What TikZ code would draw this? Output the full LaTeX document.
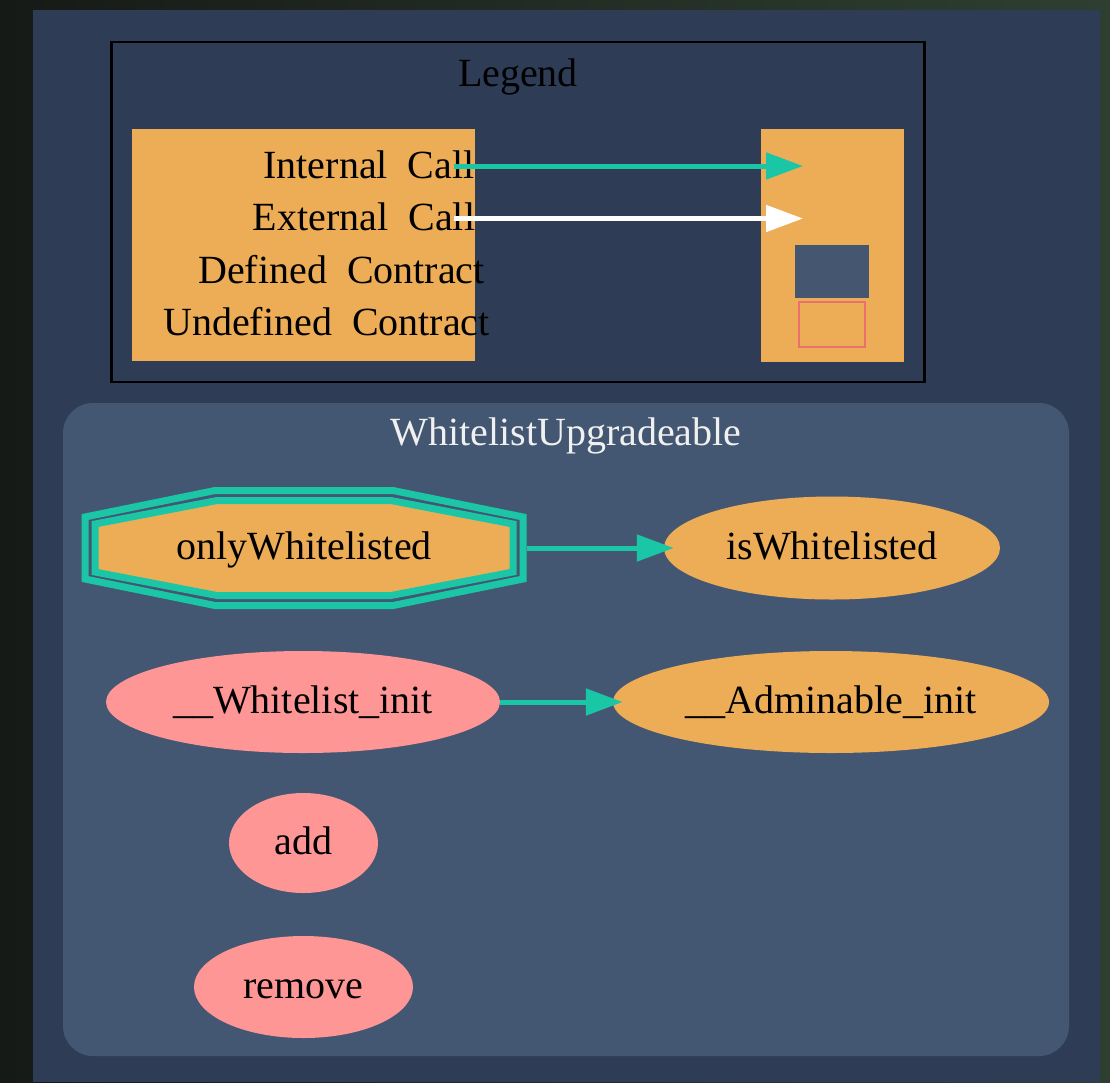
\documentclass[tikz,border=0pt]{standalone}
\usepackage{xcolor}
\usepackage{fontspec}
\setmainfont{Liberation Serif}
\newfontfamily\legendfont{Liberation Serif}[WordSpace=2]
\usepackage{tikz}
\usetikzlibrary{shapes.geometric,arrows.meta}

\definecolor{screenL}{HTML}{161A16}
\definecolor{screenR}{HTML}{2E3F32}
\definecolor{graphbg}{HTML}{2E3D55}
\definecolor{clusterbg}{HTML}{445772}
\definecolor{fnorange}{HTML}{ECAD56}
\definecolor{fnpink}{HTML}{FF9696}
\definecolor{callteal}{HTML}{1BC6A6}
\definecolor{defblue}{HTML}{445670}
\definecolor{undefred}{HTML}{E8726B}

\begin{document}
\begin{tikzpicture}[x=1pt,y=-1pt,
    every node/.append style={font=\fontsize{40}{48}\selectfont},
    fn/.style={ellipse,inner sep=0pt,text height=22pt,text depth=0pt},
    internalcall/.style={draw=callteal,line width=5pt,-{Triangle[length=37pt,width=26pt]}},
    callto/.style={draw=callteal,line width=5pt,-{Triangle[length=37pt,width=26pt]},shorten >=-10pt},
    externalcall/.style={draw=white,line width=5pt,-{Triangle[length=37pt,width=26pt]}},
    legendtext/.style={anchor=base,inner sep=0pt,font=\legendfont\fontsize{40}{48}\selectfont}]
  \useasboundingbox (0,0) rectangle (1110,1082);
  \shade[left color=screenL,right color=screenR] (0,0) rectangle (1110,1082);
  \fill[graphbg] (33,10) rectangle (1100,1082);

  % legend
  \draw[black,line width=2.7pt] (111.3,42) rectangle (924.7,382);
  \node[anchor=base,inner sep=0pt] (legendtitle) at (518,86) {Legend};
  \node[fill=fnorange,minimum width=343,minimum height=232,inner sep=0pt] (keys) at (303.5,245) {};
  \node[fill=fnorange,minimum width=143,minimum height=233,inner sep=0pt] (vals) at (832.5,245.5) {};
  \node[legendtext] (ic) at (369,178) {Internal Call};
  \node[legendtext] (ec) at (364,230) {External Call};
  \node[legendtext] (dc) at (341.5,283) {Defined Contract};
  \node[legendtext] (uc) at (326.5,335) {Undefined Contract};
  \coordinate (icfrom) at (454,166);
  \coordinate (icto) at (803,166);
  \coordinate (ecfrom) at (454,218.5);
  \coordinate (ecto) at (803,218.5);
  \draw[internalcall] (icfrom) -- (icto);
  \draw[externalcall] (ecfrom) -- (ecto);
  \node[fill=defblue,minimum width=74,minimum height=53,inner sep=0pt] (defc) at (832,271.5) {};
  \node[draw=undefred,line width=2pt,minimum width=65.4,minimum height=44.4,inner sep=0pt] (undefc) at (832,324.5) {};

  % cluster
  \fill[clusterbg,rounded corners=30pt] (63,403) rectangle (1069,1056);
  \node[anchor=base,inner sep=0pt,text=white!94!black] (cluster) at (566,445) {WhitelistUpgradeable};

  \begin{scope}[shift={(304,548)},line width=7pt,callteal,line join=miter]
    \draw (-219,-31) -- (-89,-57.5) -- (89,-57.5) -- (219,-31) -- (219,31) -- (89,57.5) -- (-89,57.5) -- (-219,31) -- cycle;
    \draw[fill=fnorange] (-209,-24) -- (-87,-47.5) -- (87,-47.5) -- (209,-24) -- (209,24) -- (87,47.5) -- (-87,47.5) -- (-209,24) -- cycle;
  \end{scope}
  \node[rectangle,inner sep=0pt,minimum width=445,minimum height=123,text height=22pt,text depth=0pt] (onlyW) at (304,548) {onlyWhitelisted};

  \node[fn,fill=fnorange,minimum width=336,minimum height=103] (isW) at (832,548) {isWhitelisted};
  \node[fn,fill=fnpink,minimum width=394,minimum height=102] (wlinit) at (303,702) {\_\_Whitelist\_init};
  \node[fn,fill=fnorange,minimum width=436,minimum height=102] (adinit) at (831,702) {\_\_Adminable\_init};
  \node[fn,fill=fnpink,minimum width=149,minimum height=100] (add) at (303.5,843) {add};
  \node[fn,fill=fnpink,minimum width=219,minimum height=102] (remove) at (303.5,987) {remove};

  \draw[callto] (onlyW) -- (isW);
  \draw[callto] (wlinit) -- (adinit);
\end{tikzpicture}
\end{document}
